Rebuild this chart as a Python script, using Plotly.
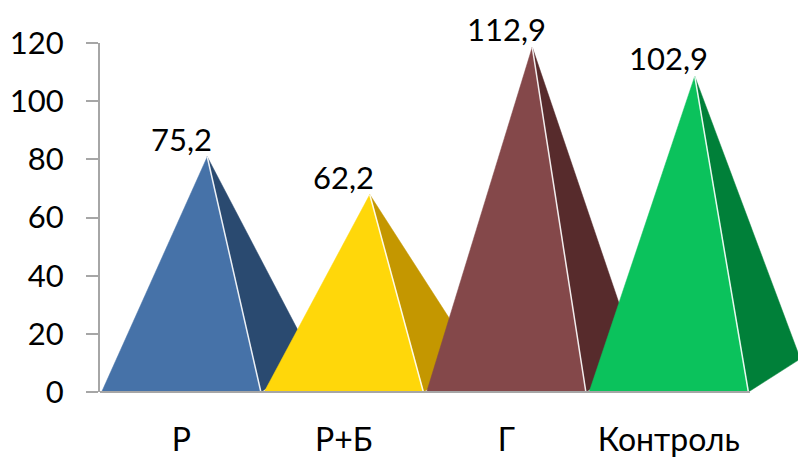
import plotly.graph_objects as go

categories = ["Р", "Р+Б", "Г", "Контроль"]
values = [75.2, 62.2, 112.9, 102.9]
labels = ["75,2", "62,2", "112,9", "102,9"]
front_colors = ["#4672A8", "#FFD70A", "#84484A", "#0BC25C"]
side_colors = ["#2A4A70", "#C49700", "#572B2C", "#008039"]
y_ticks = [0, 20, 40, 60, 80, 100, 120]

HALF = 0.49       # half width of the front base edge (category units)
DX = 0.16         # half depth offset, x (category units)
DY = 5.7          # half depth offset, y (value units)
FONT = "Lato, 'Open Sans', sans-serif"

fig = go.Figure()

for i, (v, fc, sc) in enumerate(zip(values, front_colors, side_colors)):
    fl, fr = i - HALF, i + HALF
    ax, ay = i + DX, v + DY
    # side face (front-right corner, apex, back-right corner)
    fig.add_trace(go.Scatter(
        x=[fr, ax, fr + 2 * DX, fr], y=[0, ay, 2 * DY, 0],
        mode="lines", fill="toself", fillcolor=sc,
        line=dict(color=sc, width=0.5), hoverinfo="skip", showlegend=False))
    # front face
    fig.add_trace(go.Scatter(
        x=[fl, ax, fr, fl], y=[0, ay, 0, 0],
        mode="lines", fill="toself", fillcolor=fc,
        line=dict(color=fc, width=0.5), hoverinfo="skip", showlegend=False))
    # white edge between front and side
    fig.add_trace(go.Scatter(
        x=[ax, fr], y=[ay, 0], mode="lines",
        line=dict(color="rgba(255,255,255,0.9)", width=1.5),
        hoverinfo="skip", showlegend=False))
    fig.add_annotation(x=i, y=ay, text=labels[i], showarrow=False,
                       xanchor="center", yanchor="bottom", yshift=-3,
                       font=dict(family=FONT, size=31, color="#000000"))

n = len(categories)
fig.add_shape(type="line", xref="x", yref="paper", x0=-0.5, x1=n - 0.5,
              y0=0, y1=0, line=dict(color="#A6A6A6", width=2))

fig.update_layout(
    width=798, height=458,
    margin=dict(l=100, r=0, t=43, b=66),
    paper_bgcolor="white", plot_bgcolor="white",
    font=dict(family=FONT, size=31, color="#000000"),
    xaxis=dict(range=[-0.5, -0.5 + 698 / 162.5], tickvals=list(range(n)),
               ticktext=categories, showgrid=False, zeroline=False,
               showline=False, ticks="", ticklabelstandoff=26,
               tickfont=dict(family=FONT, size=32, color="#000000")),
    yaxis=dict(range=[0, 120], tickvals=y_ticks,
               ticktext=[str(t) for t in y_ticks],
               showgrid=False, zeroline=False, showline=True,
               linecolor="#A6A6A6", linewidth=2, ticks="outside",
               ticklen=12, tickwidth=2, tickcolor="#A6A6A6",
               ticklabelstandoff=16,
               tickfont=dict(family=FONT, size=31, color="#000000")),
)

fig.write_html("out.html")
